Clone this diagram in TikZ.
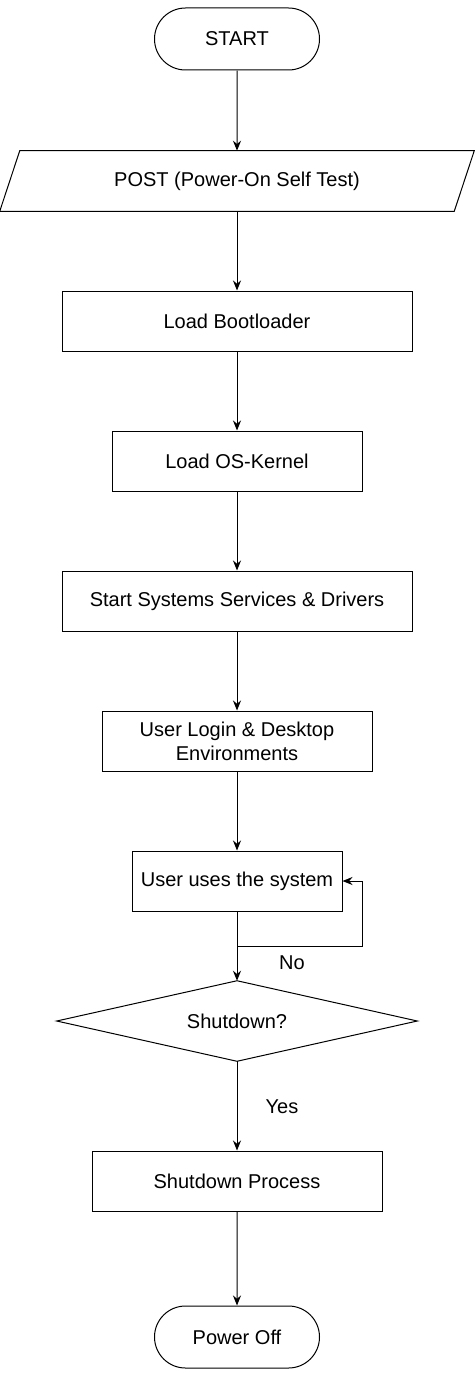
\documentclass[tikz,border=0pt]{standalone}
\usepackage{fontspec}
\setmainfont{Liberation Sans}
\usetikzlibrary{shapes.geometric,shapes.misc,arrows.meta}
\begin{document}
\begin{tikzpicture}[x=0.75pt,y=-0.75pt,
  every node/.style={font=\fontsize{15pt}{18pt}\selectfont, inner sep=0pt},
  base/.style={draw=black, line width=0.75pt},
  term/.style={base, rounded rectangle, minimum width={165*0.75pt}, minimum height={62*0.75pt}},
  procbox/.style={base, rectangle, minimum width={#1*0.75pt}, minimum height={60*0.75pt}, align=center},
  arr/.style={line width=0.75pt, -{Stealth[length=7.5pt,width=6pt]}},
  ln/.style={line width=0.75pt}
]
\useasboundingbox (0,0) rectangle (475,1373);
\node[term] (start) at (237,39) {START};
\node[minimum width={454*0.75pt}, minimum height={60*0.75pt}] (post) at (237,181) {POST (Power-On Self Test)};
\draw[base] ([xshift=7.5pt]post.north west) -- ([xshift=7.5pt]post.north east) -- ([xshift=-7.5pt]post.south east) -- ([xshift=-7.5pt]post.south west) -- cycle;
\node[procbox=350] (boot) at (237,321) {Load Bootloader};
\node[procbox=250] (kern) at (237,461) {Load OS-Kernel};
\node[procbox=350] (serv) at (237,601) {Start Systems Services \& Drivers};
\node[procbox=270] (login) at (237,741) {User Login \& Desktop\\Environments};
\node[procbox=210] (use) at (237,881) {User uses the system};
\node[minimum width={360*0.75pt}, minimum height={80*0.75pt}] (dec) at (237,1021) {Shutdown?};
\draw[base] (dec.north) -- (dec.east) -- (dec.south) -- (dec.west) -- cycle;
\node[procbox=290] (shut) at (237,1181) {Shutdown Process};
\node[term] (off) at (237,1337) {Power Off};
\coordinate (j) at (237,946);
\coordinate (r) at (362,946);
\draw[arr] (start) -- (post.north);
\draw[arr] (post.south) -- (boot);
\draw[arr] (boot) -- (kern);
\draw[arr] (kern) -- (serv);
\draw[arr] (serv) -- (login);
\draw[arr] (login) -- (use);
\draw[ln] (use) -- (j);
\draw[arr] (j) -- (r) |- (use.east);
\draw[arr] (j) -- (dec.north);
\draw[arr] (dec.south) -- (shut);
\draw[arr] (shut) -- (off);
\node (no) at (292,963) {No};
\node (yes) at (282,1107) {Yes};
\end{tikzpicture}
\end{document}
